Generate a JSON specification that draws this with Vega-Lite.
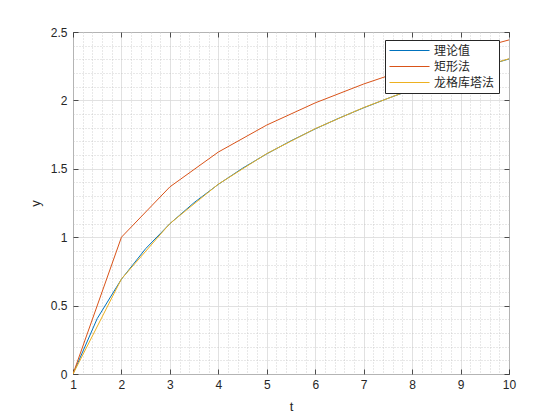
{
  "$schema": "https://vega.github.io/schema/vega-lite/v6.json",
  "autosize": "none",
  "width": 436,
  "height": 342,
  "padding": {"left": 73, "top": 32, "right": 51, "bottom": 46},
  "background": "white",
  "config": {
    "view": {"stroke": "#262626", "strokeWidth": 1},
    "axis": {
      "labelFont": "Liberation Sans",
      "titleFont": "Liberation Sans",
      "labelFontSize": 12,
      "titleFontSize": 13,
      "labelColor": "#262626",
      "titleColor": "#262626",
      "titleFontWeight": "normal",
      "labelFlush": false,
      "domain": false
    }
  },
  "data": {
    "values": [
      {"t": 1, "y": 0, "s": "理论值"},
      {"t": 1.5, "y": 0.4055, "s": "理论值"},
      {"t": 2, "y": 0.6931, "s": "理论值"},
      {"t": 2.5, "y": 0.9163, "s": "理论值"},
      {"t": 3, "y": 1.0986, "s": "理论值"},
      {"t": 3.5, "y": 1.2528, "s": "理论值"},
      {"t": 4, "y": 1.3863, "s": "理论值"},
      {"t": 4.5, "y": 1.5041, "s": "理论值"},
      {"t": 5, "y": 1.6094, "s": "理论值"},
      {"t": 5.5, "y": 1.7047, "s": "理论值"},
      {"t": 6, "y": 1.7918, "s": "理论值"},
      {"t": 6.5, "y": 1.8718, "s": "理论值"},
      {"t": 7, "y": 1.9459, "s": "理论值"},
      {"t": 7.5, "y": 2.0149, "s": "理论值"},
      {"t": 8, "y": 2.0794, "s": "理论值"},
      {"t": 8.5, "y": 2.1401, "s": "理论值"},
      {"t": 9, "y": 2.1972, "s": "理论值"},
      {"t": 9.5, "y": 2.2513, "s": "理论值"},
      {"t": 10, "y": 2.3026, "s": "理论值"},
      {"t": 1, "y": 0, "s": "矩形法"},
      {"t": 2, "y": 1.0, "s": "矩形法"},
      {"t": 3, "y": 1.3679, "s": "矩形法"},
      {"t": 4, "y": 1.6225, "s": "矩形法"},
      {"t": 5, "y": 1.8199, "s": "矩形法"},
      {"t": 6, "y": 1.982, "s": "矩形法"},
      {"t": 7, "y": 2.1198, "s": "矩形法"},
      {"t": 8, "y": 2.2398, "s": "矩形法"},
      {"t": 9, "y": 2.3463, "s": "矩形法"},
      {"t": 10, "y": 2.442, "s": "矩形法"},
      {"t": 1, "y": 0, "s": "龙格库塔法"},
      {"t": 2, "y": 0.6946, "s": "龙格库塔法"},
      {"t": 3, "y": 1.0997, "s": "龙格库塔法"},
      {"t": 4, "y": 1.3877, "s": "龙格库塔法"},
      {"t": 5, "y": 1.611, "s": "龙格库塔法"},
      {"t": 6, "y": 1.7934, "s": "龙格库塔法"},
      {"t": 7, "y": 1.9476, "s": "龙格库塔法"},
      {"t": 8, "y": 2.0812, "s": "龙格库塔法"},
      {"t": 9, "y": 2.199, "s": "龙格库塔法"},
      {"t": 10, "y": 2.3044, "s": "龙格库塔法"}
    ]
  },
  "layer": [
    {
      "mark": {"type": "line", "opacity": 0},
      "encoding": {
        "x": {"field": "t", "type": "quantitative", "scale": {"domain": [1, 10], "nice": false, "zero": false},
          "axis": {"orient": "bottom", "title": null, "labels": false, "ticks": false, "grid": true, "gridDash": [1, 2], "gridColor": "#bdbdbd", "gridWidth": 0.7,
            "values": [1.2, 1.4, 1.6, 1.8, 2.2, 2.4, 2.6, 2.8, 3.2, 3.4, 3.6, 3.8, 4.2, 4.4, 4.6, 4.8, 5.2, 5.4, 5.6, 5.8, 6.2, 6.4, 6.6, 6.8, 7.2, 7.4, 7.6, 7.8, 8.2, 8.4, 8.6, 8.8, 9.2, 9.4, 9.6, 9.8]}},
        "y": {"field": "y", "type": "quantitative", "scale": {"domain": [0, 2.5], "nice": false},
          "axis": {"orient": "left", "title": null, "labels": false, "ticks": false, "grid": true, "gridDash": [1, 2], "gridColor": "#bdbdbd", "gridWidth": 0.7,
            "values": [0.1, 0.2, 0.3, 0.4, 0.6, 0.7, 0.8, 0.9, 1.1, 1.2, 1.3, 1.4, 1.6, 1.7, 1.8, 1.9, 2.1, 2.2, 2.3, 2.4]}},
        "detail": {"field": "s"}
      }
    },
    {
      "mark": {"type": "line", "opacity": 0},
      "encoding": {
        "x": {"field": "t", "type": "quantitative",
          "axis": {"orient": "top", "title": null, "labels": false, "grid": false, "ticks": true, "tickSize": -5, "tickColor": "#262626", "tickWidth": 0.8,
            "values": [1, 2, 3, 4, 5, 6, 7, 8, 9, 10]}},
        "y": {"field": "y", "type": "quantitative",
          "axis": {"orient": "right", "title": null, "labels": false, "grid": false, "ticks": true, "tickSize": -5, "tickColor": "#262626", "tickWidth": 0.8,
            "values": [0, 0.5, 1, 1.5, 2, 2.5]}},
        "detail": {"field": "s"}
      }
    },
    {
      "mark": {"type": "line", "strokeWidth": 1, "clip": true},
      "encoding": {
        "x": {"field": "t", "type": "quantitative",
          "axis": {"orient": "bottom", "title": "t", "titlePadding": 10, "grid": true, "gridColor": "#d9d9d9", "gridWidth": 0.8,
            "ticks": true, "tickSize": -5, "tickColor": "#262626", "tickWidth": 0.8, "labelPadding": 10,
            "values": [1, 2, 3, 4, 5, 6, 7, 8, 9, 10], "labelExpr": "datum.value + ''"}},
        "y": {"field": "y", "type": "quantitative",
          "axis": {"orient": "left", "title": "y", "titlePadding": 8, "grid": true, "gridColor": "#d9d9d9", "gridWidth": 0.8,
            "ticks": true, "tickSize": -5, "tickColor": "#262626", "tickWidth": 0.8, "labelPadding": 11,
            "values": [0, 0.5, 1, 1.5, 2, 2.5], "labelExpr": "datum.value + ''"}},
        "color": {"field": "s", "type": "nominal",
          "scale": {"domain": ["理论值", "矩形法", "龙格库塔法"], "range": ["#0072BD", "#D95319", "#EDB120"]},
          "legend": {
            "title": null, "orient": "none", "legendX": 312, "legendY": 8,
            "symbolType": "M-1,0H5.67", "symbolSize": 144, "symbolStrokeWidth": 1,
            "labelOffset": 32, "labelFont": "Noto Sans CJK SC", "labelFontSize": 12, "labelColor": "#262626",
            "rowPadding": 3, "padding": 4, "strokeColor": "#262626", "fillColor": "white", "cornerRadius": 0
          }}
      }
    }
  ],
  "resolve": {"axis": {"x": "independent", "y": "independent"}}
}
